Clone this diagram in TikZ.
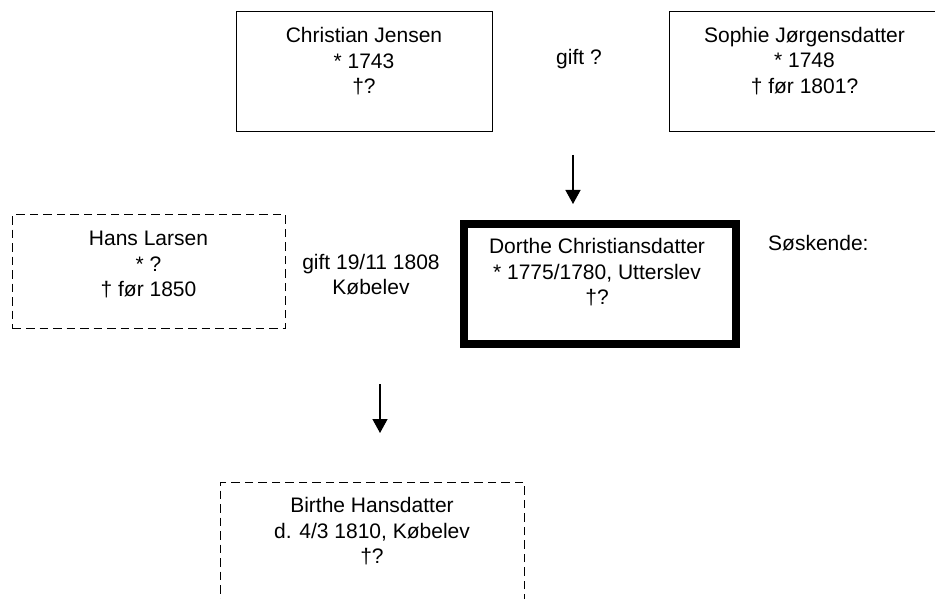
\documentclass[tikz,border=0pt]{standalone}
\usepackage{fontspec}
\setmainfont{Liberation Sans}
\usetikzlibrary{arrows.meta}
\begin{document}
\begin{tikzpicture}[x=1pt,y=-1pt,
  thinbox/.style={draw,line width=1.4pt,inner sep=0pt,anchor=north west},
  dashbox/.style={thinbox,dash pattern=on 8.5pt off 5pt},
  thickbox/.style={draw,line width=8pt,inner sep=0pt,anchor=north west},
  txt/.style={font=\fontsize{21}{25.5}\selectfont,align=center,inner sep=0pt},
  arr/.style={line width=1.4pt,-{Triangle[length=14pt,width=15pt]}}]
\clip (0,0) rectangle (935,599);
\fill[white] (0,0) rectangle (935,599);
% boxes
\node[thinbox,minimum width=256pt,minimum height=120pt] (cj) at (236,11) {};
\node[thinbox,minimum width=271pt,minimum height=120pt] (sj) at (669,11) {};
\node[dashbox,minimum width=273pt,minimum height=114pt] (hl) at (12,214) {};
\node[thickbox,minimum width=272pt,minimum height=120pt] (dc) at (460,220) {};
\node[dashbox,minimum width=304pt,minimum height=140pt] (bh) at (220,482) {};
% texts
\node[txt,anchor=north] (cjt) at (364,27.5) {Christian Jensen\\* 1743\\†?};
\node[txt,anchor=north] (sjt) at (804.5,27) {Sophie Jørgensdatter\\* 1748\\† før 1801?};
\node[txt,anchor=base] (g1) at (579,65) {gift ?};
\node[txt,anchor=north] (hlt) at (148.5,231) {Hans Larsen\\* ?\\† før 1850};
\node[txt,anchor=north] (g2) at (371,254) {gift 19/11 1808\\Købelev};
\node[txt,anchor=north] (dct) at (597,238.5) {Dorthe Christiansdatter\\* 1775/1780, Utterslev\\†?};
\node[txt,anchor=base west] (sk) at (768,250) {Søskende:};
\node[txt,anchor=north] (bht) at (372,497.5) {Birthe Hansdatter\\d. 4/3 1810, Købelev\\†?};
% arrows
\coordinate (a1s) at (573,155);
\coordinate (a1e) at (573,204);
\coordinate (a2s) at (380,384);
\coordinate (a2e) at (380,433);
\draw[arr] (a1s) -- (a1e);
\draw[arr] (a2s) -- (a2e);
\end{tikzpicture}
\end{document}
